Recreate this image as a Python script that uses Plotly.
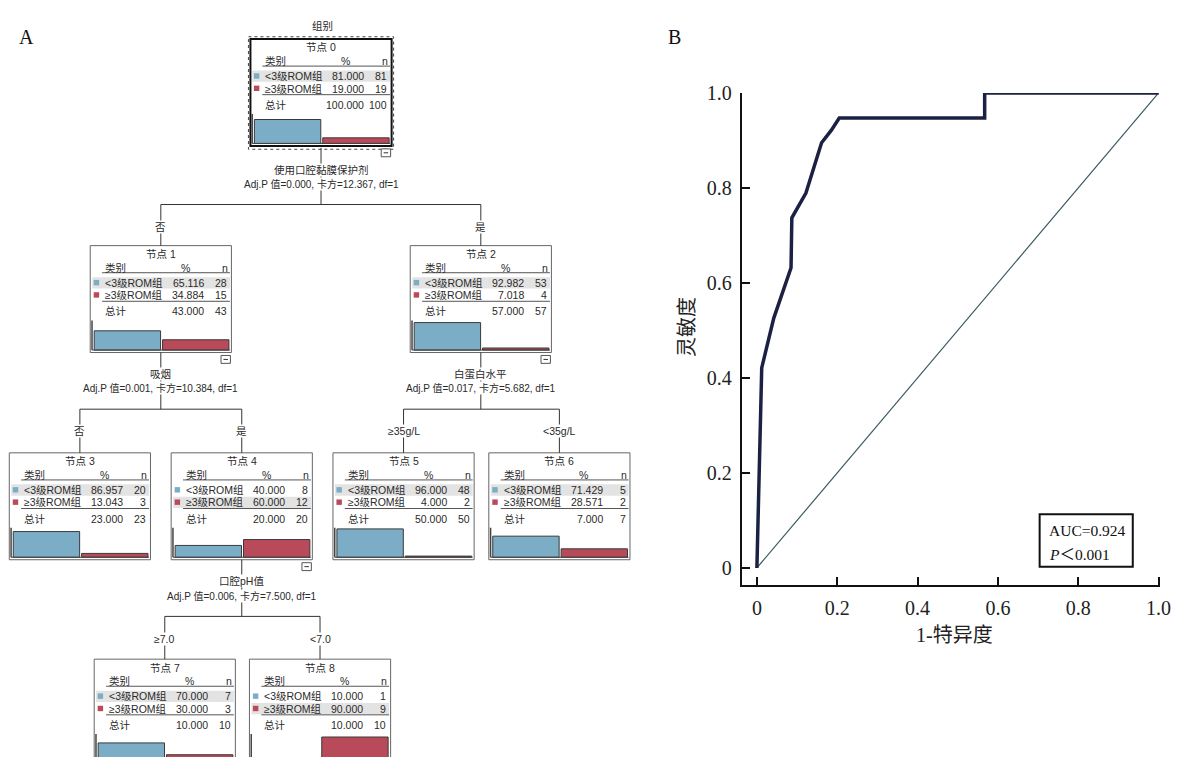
import plotly.graph_objects as go

# the viewer page has an 8px body margin: shrink the figure so the page fits the window
PAD = 8
W, H = 1202, 765
FW, FH = W - 2 * PAD, H - 2 * PAD

# ---------------- data ----------------
categories = ["<3级ROM组", "≥3级ROM组"]
node_pct_lt3 = [81.000, 65.116, 92.982, 86.957, 40.000, 96.000, 71.429, 70.000, 10.000]
node_n_lt3 = [81, 28, 53, 20, 8, 48, 5, 7, 1]
node_pct_ge3 = [19.000, 34.884, 7.018, 13.043, 60.000, 4.000, 28.571, 30.000, 90.000]
node_n_ge3 = [19, 15, 4, 3, 12, 2, 2, 3, 9]
node_pct_total = [100.000, 43.000, 57.000, 23.000, 20.000, 50.000, 7.000, 10.000, 10.000]
node_n_total = [100, 43, 57, 23, 20, 50, 7, 10, 10]

split_parent = [0, 1, 2, 4]
split_children = [[1, 2], [3, 4], [5, 6], [7, 8]]
split_vars = ["使用口腔黏膜保护剂", "吸烟", "白蛋白水平", "口腔pH值"]
split_stats = ["Adj.P 值=0.000, 卡方=12.367, df=1",
               "Adj.P 值=0.001, 卡方=10.384, df=1",
               "Adj.P 值=0.017, 卡方=5.682, df=1",
               "Adj.P 值=0.006, 卡方=7.500, df=1"]
split_branch = [["否", "是"], ["否", "是"], ["≥35g/L", "<35g/L"], ["≥7.0", "<7.0"]]

roc_fpr = [0, 0.003, 0.012, 0.042, 0.085, 0.087, 0.122, 0.161, 0.185, 0.205, 0.567, 0.567, 1.0]
roc_tpr = [0, 0.11, 0.421, 0.526, 0.632, 0.737, 0.789, 0.895, 0.921, 0.947, 0.947, 1.0, 1.0]
ref_x = [0, 1]
ref_y = [0, 1]
auc_text = "AUC=0.924"
p_text = "<i>P</i>＜0.001"
x_ticks = [0, 0.2, 0.4, 0.6, 0.8, 1.0]
x_ticktext = ["0", "0.2", "0.4", "0.6", "0.8", "1.0"]
y_ticks = [0, 0.2, 0.4, 0.6, 0.8, 1.0]
y_ticktext = ["0", "0.2", "0.4", "0.6", "0.8", "1.0"]

# ---------------- layout of tree (window pixel positions) ----------------
node_left = [252.7, 91, 414, 9.3, 172.7, 336, 493.3, 95, 251.7]
node_top = [28.3, 238, 238, 448.3, 448.3, 448.3, 448.3, 657.7, 657.7]
BW, BH = 142.5, 108.5
BAR_SCALE = 0.30   # px per percent
BAR_W = 67

TF = "Liberation Sans, Arial, Noto Sans CJK SC, sans-serif"
SF = "Liberation Serif, Times New Roman, Noto Sans CJK SC, serif"
TXT = "#2a2a2a"
BLUE = "#7badc6"
RED = "#b84a5a"

shapes = []
ann = []


def rect(x0, y0, x1, y1, color="#666", lw=1, fill=None, dash=None):
    d = dict(type="rect", xref="x2", yref="y2", x0=x0, y0=y0, x1=x1, y1=y1,
             line=dict(color=color, width=lw))
    if dash:
        d["line"]["dash"] = dash
    if fill:
        d["fillcolor"] = fill
    shapes.append(d)


def seg(x0, y0, x1, y1, color="#333", lw=1):
    shapes.append(dict(type="line", xref="x2", yref="y2", x0=x0, y0=y0, x1=x1, y1=y1,
                       line=dict(color=color, width=lw)))


def text(x, y, s, xanchor="center", size=10.5, color=TXT, bg=None, family=TF):
    a = dict(x=x, y=y, xref="x2", yref="y2", text=s, showarrow=False,
             xanchor=xanchor, yanchor="middle", font=dict(family=family, size=size, color=color),
             borderpad=0)
    if bg:
        a["bgcolor"] = bg
    ann.append(a)


def collapse_icon(L, T):
    rect(L + 132, T + 111.5, L + 141.5, T + 119.5, color="#555", lw=1, fill="white")
    seg(L + 134.5, T + 115.5, L + 139, T + 115.5, color="#333", lw=1)


has_children = set(split_parent)
for i in range(len(node_left)):
    L, T = node_left[i], node_top[i]
    hl = 0 if node_pct_lt3[i] >= node_pct_ge3[i] else 1
    if hl == 0:
        rect(L + 2, T + 32, L + 141, T + 43.5, lw=0, fill="#e3e3e3")
    else:
        rect(L + 2, T + 44.5, L + 141, T + 56, lw=0, fill="#e3e3e3")
    if i == 0:
        rect(L - 2, T - 2.3, L + BW + 2, T + BH + 3.4, color="#444", lw=1, dash="dot")
        rect(L, T, L + BW, T + BH, color="#111", lw=2)
    else:
        rect(L, T, L + BW, T + BH, color="#666", lw=1)
    text(L + BW / 2, T + 8.5, "节点 %d" % i)
    text(L + 14, T + 22.5, "类别", xanchor="left")
    text(L + 96, T + 22.5, "%")
    text(L + 136, T + 22.5, "n")
    seg(L + 12, T + 27.5, L + 141, T + 27.5, color="#555", lw=1)
    rows_y = [T + 37.8, T + 50.3]
    pcts = [node_pct_lt3[i], node_pct_ge3[i]]
    ns = [node_n_lt3[i], node_n_ge3[i]]
    cols = [BLUE, RED]
    for r in range(2):
        y = rows_y[r]
        rect(L + 3.5, y - 3, L + 9, y + 2.5, lw=0, fill=cols[r])
        text(L + 14, y, categories[r], xanchor="left")
        text(L + 116, y, "%.3f" % pcts[r], xanchor="right")
        text(L + 139, y, str(ns[r]), xanchor="right")
    seg(L + 12, T + 56.5, L + 141, T + 56.5, color="#555", lw=1)
    text(L + 14, T + 66.8, "总计", xanchor="left")
    text(L + 116, T + 66.8, "%.3f" % node_pct_total[i], xanchor="right")
    text(L + 139, T + 66.8, str(node_n_total[i]), xanchor="right")
    seg(L + 1.8, T + 76, L + 1.8, T + 106, color="#444", lw=1.5)
    seg(L + 1.8, T + 106, L + 141, T + 106, color="#444", lw=1)
    if i in has_children:
        collapse_icon(L, T)

bar_base = [t + 106 for t in node_top]
fig = go.Figure()
fig.add_trace(go.Bar(x=[l + 4 + BAR_W / 2 for l in node_left],
                     y=[-p * BAR_SCALE for p in node_pct_lt3], base=bar_base, width=BAR_W,
                     marker=dict(color=BLUE, line=dict(color="#3a3a3a", width=1)),
                     xaxis="x2", yaxis="y2", hoverinfo="skip", showlegend=False))
fig.add_trace(go.Bar(x=[l + 73 + BAR_W / 2 for l in node_left],
                     y=[-p * BAR_SCALE for p in node_pct_ge3], base=bar_base, width=BAR_W,
                     marker=dict(color=RED, line=dict(color="#3a3a3a", width=1)),
                     xaxis="x2", yaxis="y2", hoverinfo="skip", showlegend=False))

for k, p in enumerate(split_parent):
    pc = node_left[p] + BW / 2
    pb = node_top[p] + BH + (2 if p == 0 else 0)
    hy = pb + 57.5
    cs = split_children[k]
    cx = [node_left[c] + BW / 2 for c in cs]
    seg(pc, pb, pc, hy)
    seg(cx[0], hy, cx[1], hy)
    for j, c in enumerate(cs):
        seg(cx[j], hy, cx[j], node_top[c])
        text(cx[j], hy + 22.5, split_branch[k][j], bg="white")
    text(pc, pb + 22, split_vars[k], bg="white")
    text(pc, pb + 36.5, split_stats[k], size=10, bg="white")

text(325, 15, "组别")
text(27, 26, "A", size=20, color="#111", family=SF)
text(681, 26, "B", size=20, color="#111", family=SF)

rect(1049.3, 510.7, 1143.3, 564, color="#111", lw=2, fill="white")
text(1058, 527, auc_text, xanchor="left", size=15.5, color="#111", family=SF)
text(1058, 551, p_text, xanchor="left", size=15.5, color="#111", family=SF)
ann.append(dict(x=694, y=321, xref="x2", yref="y2", text="灵敏度", showarrow=False,
                textangle=-90, font=dict(family=SF, size=20, color="#222")))
text(963, 633, "1-特异度", size=20, color="#222", family=SF)

fig.add_trace(go.Scatter(x=ref_x, y=ref_y, mode="lines",
                         line=dict(color="#3d5863", width=1.2),
                         xaxis="x", yaxis="y", hoverinfo="skip", showlegend=False))
fig.add_trace(go.Scatter(x=roc_fpr, y=roc_tpr, mode="lines",
                         line=dict(color="#1b2142", width=3.5),
                         xaxis="x", yaxis="y", hoverinfo="skip", showlegend=False))

axis_common = dict(showline=True, linecolor="#111", linewidth=2, showgrid=False, zeroline=False,
                   ticks="inside", ticklen=8, tickwidth=2, tickcolor="#111",
                   ticklabelstandoff=4,
                   tickfont=dict(family=SF, size=20, color="#222"), mirror=False)


def fx(px):
    return (px - PAD) / FW


def fy(py):
    return 1 - (py - PAD) / FH


fig.update_layout(
    width=FW, height=FH, margin=dict(l=0, r=0, t=0, b=0, pad=0),
    paper_bgcolor="white", plot_bgcolor="rgba(0,0,0,0)",
    barmode="overlay", showlegend=False,
    xaxis=dict(domain=[fx(748.5), fx(1171)], range=[-0.038, 1.004], anchor="y",
               tickvals=x_ticks, ticktext=x_ticktext, **axis_common),
    yaxis=dict(domain=[fy(582), fy(83)], range=[-0.035, 1.0], anchor="x",
               tickvals=y_ticks, ticktext=y_ticktext, **axis_common),
    xaxis2=dict(domain=[0, 1], range=[PAD, PAD + FW], visible=False, anchor="y2"),
    yaxis2=dict(domain=[0, 1], range=[PAD + FH, PAD], visible=False, anchor="x2"),
    shapes=shapes, annotations=ann,
)

fig.write_html("out.html")
